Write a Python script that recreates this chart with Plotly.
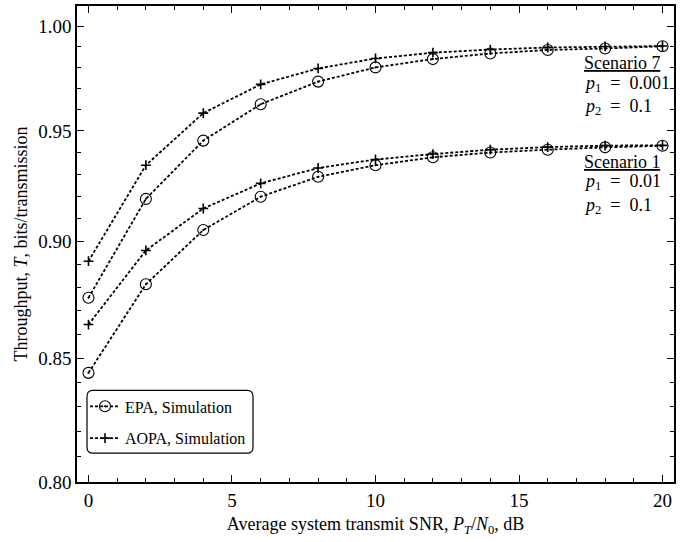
import math
import plotly.graph_objects as go

snr_db = [0, 2, 4, 6, 8, 10, 12, 14, 16, 18, 20]
epa_s7 = [0.8755, 0.9189, 0.9455, 0.9625, 0.9732, 0.9800, 0.9840, 0.9867, 0.9884, 0.9891, 0.9902]
aopa_s7 = [0.8913, 0.9342, 0.9583, 0.9719, 0.9795, 0.9843, 0.9871, 0.9886, 0.9896, 0.9901, 0.9903]
epa_s1 = [0.8439, 0.8813, 0.9050, 0.9199, 0.9289, 0.9342, 0.9378, 0.9400, 0.9413, 0.9424, 0.9431]
aopa_s1 = [0.8641, 0.8960, 0.9146, 0.9259, 0.9329, 0.9368, 0.9393, 0.9413, 0.9425, 0.9432, 0.9433]

y_major = [0.80, 0.85, 0.90, 0.95, 1.00]
y_major_text = ["0.80", "0.85", "0.90", "0.95", "1.00"]
y_minor = [0.81, 0.82, 0.83, 0.84, 0.86, 0.87, 0.88, 0.89, 0.91, 0.92, 0.93, 0.94,
           0.96, 0.97, 0.98, 0.99]
x_major = [0, 5, 10, 15, 20]

FONT = "Liberation Serif"
line_style = dict(color="black", width=1.8, dash="3px,2px")

fig = go.Figure()

def add(y, name, symbol, size, lw, group, show):
    fig.add_trace(go.Scatter(
        x=snr_db, y=y, mode="lines+markers", name=name,
        line=line_style,
        marker=dict(symbol=symbol, size=size, color="black",
                    line=dict(color="#222", width=lw)),
        legendgroup=group, showlegend=show))

add(epa_s7, "EPA, Simulation", "circle-open-dot", 11, 1.1, "epa", True)
add(epa_s1, "EPA, Simulation", "circle-open-dot", 11, 1.1, "epa", False)
add(aopa_s7, "AOPA, Simulation", "cross-thin-open", 7, 1.6, "aopa", True)
add(aopa_s1, "AOPA, Simulation", "cross-thin-open", 7, 1.6, "aopa", False)

W, H = 694, 542
ml, mr, mt, mb = 77, 20, 4, 60
pw, ph = W - ml - mr, H - mt - mb

def px(x):
    return (x - ml) / pw

def py(y):
    return (H - mb - y) / ph

# rounded legend frame
x0, x1, y0, y1 = px(87), px(253), py(453), py(390)
rx, ry = 6 / pw, 6 / ph
path = (f"M {x0+rx},{y0} L {x1-rx},{y0} Q {x1},{y0} {x1},{y0+ry} "
        f"L {x1},{y1-ry} Q {x1},{y1} {x1-rx},{y1} L {x0+rx},{y1} "
        f"Q {x0},{y1} {x0},{y1-ry} L {x0},{y0+ry} Q {x0},{y0} {x0+rx},{y0} Z")
fig.add_shape(type="path", path=path, xref="paper", yref="paper",
              line=dict(color="black", width=1.2), fillcolor="white", layer="below")

ann_font = dict(family=FONT, size=18, color="black")
EQ = "\u2002=\u2002"
notes = [
    ("<u>Scenario 7</u>", 61),
    (f"<i>p</i><sub>1</sub>{EQ}0.001", 82),
    (f"<i>p</i><sub>2</sub>{EQ}0.1", 105),
    ("<u>Scenario 1</u>", 161),
    (f"<i>p</i><sub>1</sub>{EQ}0.01", 181),
    (f"<i>p</i><sub>2</sub>{EQ}0.1", 205),
]
for txt, ypix in notes:
    fig.add_annotation(text=txt, x=px(582), y=py(ypix), xref="paper", yref="paper",
                       xanchor="left", yanchor="middle", showarrow=False, font=ann_font,
                       height=18)

axis_common = dict(showline=True, linecolor="black", linewidth=1.5, mirror="ticks",
                   ticks="inside", ticklen=7, tickwidth=1.2, tickcolor="black",
                   showgrid=False, zeroline=False,
                   tickfont=dict(family=FONT, size=19, color="black"))

fig.update_xaxes(**axis_common, range=[-0.4, 20.4], tickmode="array", tickvals=x_major,
                 minor=dict(dtick=1, tick0=0, ticks="inside", ticklen=4, tickwidth=1,
                            tickcolor="black", showgrid=False),
                 title=dict(text="Average system transmit SNR, <i>P</i><sub><i>T</i></sub>/<i>N</i><sub>0</sub>, dB",
                            font=dict(family=FONT, size=18, color="black"), standoff=8))
fig.update_yaxes(**axis_common, type="log", range=[math.log10(0.8), math.log10(1.0099)],
                 tickmode="array", tickvals=y_major, ticktext=y_major_text,
                 minor=dict(tickmode="array", tickvals=y_minor, ticks="inside", ticklen=4,
                            tickwidth=1, tickcolor="black", showgrid=False),
                 title=dict(text="Throughput, <i>T</i>, bits/transmission",
                            font=dict(family=FONT, size=18, color="black"), standoff=6))

fig.update_layout(
    width=W, height=H, margin=dict(l=ml, r=mr, t=mt, b=mb),
    plot_bgcolor="white", paper_bgcolor="white",
    font=dict(family=FONT, color="black"),
    legend=dict(x=px(85), y=py(389), xanchor="left", yanchor="top",
                bgcolor="rgba(0,0,0,0)", borderwidth=0, itemwidth=30,
                tracegroupgap=8, font=dict(family=FONT, size=16, color="black")),
)

fig.write_html("out.html")
